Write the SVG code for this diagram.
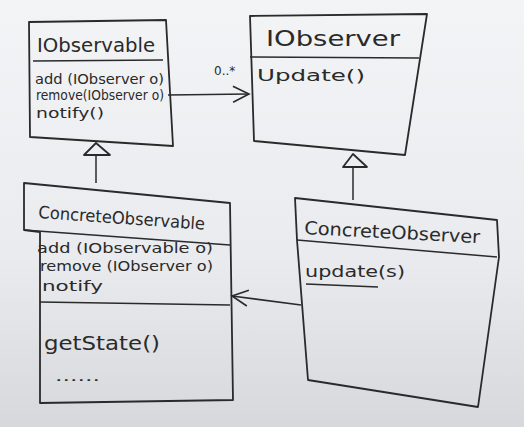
<svg xmlns="http://www.w3.org/2000/svg" width="524" height="427" viewBox="0 0 524 427">
<defs>
<linearGradient id="bg" x1="0" y1="0" x2="0" y2="1">
<stop offset="0" stop-color="#f3f4f6"/>
<stop offset="0.6" stop-color="#e9ebee"/>
<stop offset="1" stop-color="#d6d8dc"/>
</linearGradient>
<marker id="open" viewBox="0 0 20 20" refX="18" refY="10" markerWidth="20" markerHeight="20" markerUnits="userSpaceOnUse" orient="auto">
<path d="M2,2 L18,10 L2,18" fill="none" stroke="#2a2a2a" stroke-width="1.6"/>
</marker>
</defs>
<style>
.box{fill:none;stroke:#2a2a2a;stroke-width:1.8;stroke-linejoin:round}
.ln{fill:none;stroke:#2a2a2a;stroke-width:1.5}
.tri{fill:none;stroke:#2a2a2a;stroke-width:1.8;stroke-linejoin:round}
.t{font-family:"DejaVu Sans",sans-serif;fill:#2a2a2a}
.title{font-size:19px}
.m{font-size:14px}
</style>
<rect width="524" height="427" fill="url(#bg)"/>

<g id="IObservable">
<path class="box" d="M29,22 L166,20 L173,146 L30,137 Z"/>
<path class="ln" d="M33,61 L163,60"/>
<text class="t title" x="37" y="52" textLength="118" lengthAdjust="spacingAndGlyphs">IObservable</text>
<text class="t m" x="35" y="84" textLength="129" lengthAdjust="spacingAndGlyphs">add (IObserver o)</text>
<text class="t m" x="36" y="100" textLength="128" lengthAdjust="spacingAndGlyphs">remove(IObserver o)</text>
<text class="t m" x="36" y="118" textLength="68" lengthAdjust="spacingAndGlyphs">notify()</text>
</g>

<g id="IObserver">
<path class="box" d="M250,16 L427,14 L405,155 L254,141 Z"/>
<path class="ln" d="M250,57 L419,58"/>
<text class="t" x="266" y="46" font-size="21" textLength="134" lengthAdjust="spacingAndGlyphs">IObserver</text>
<text class="t" x="257" y="81" font-size="15" textLength="108" lengthAdjust="spacingAndGlyphs">Update()</text>
</g>

<g id="ConcreteObservable">
<path class="box" d="M24,183 L230,203 L233,400 L40,403 L40,232 L24,230 Z"/>
<path class="ln" d="M24,230 L230,245"/>
<path class="ln" d="M40,302 L230,305"/>
<text class="t" x="38" y="218" font-size="17" transform="rotate(4 38 218)" textLength="167" lengthAdjust="spacingAndGlyphs">ConcreteObservable</text>
<text class="t m" x="37" y="253" font-size="15" textLength="176" lengthAdjust="spacingAndGlyphs">add  (IObservable o)</text>
<text class="t m" x="40" y="271" font-size="15" textLength="173" lengthAdjust="spacingAndGlyphs">remove (IObserver o)</text>
<text class="t m" x="42" y="291" font-size="15" textLength="61" lengthAdjust="spacingAndGlyphs">notify</text>
<text class="t" x="44" y="350" font-size="20" textLength="116" lengthAdjust="spacingAndGlyphs">getState()</text>
<text class="t m" x="55" y="381" textLength="45" lengthAdjust="spacingAndGlyphs">......</text>
</g>

<g id="ConcreteObserver">
<path class="box" d="M295,198 L497,220 L499,257 L478,407 L308,380 L297,240 Z"/>
<path class="ln" d="M297,240 L497,257"/>
<text class="t" x="304" y="234" font-size="18" transform="rotate(3 304 234)" textLength="176" lengthAdjust="spacingAndGlyphs">ConcreteObserver</text>
<text class="t" x="305" y="277" font-size="16" textLength="100" lengthAdjust="spacingAndGlyphs">update(s)</text>
<path class="ln" d="M306,284 L378,287"/>
</g>

<g id="connectors">
<path class="ln" d="M168,95 L249,94" marker-end="url(#open)"/>
<text class="t" x="214" y="75" font-size="12">0..*</text>
<path class="ln" d="M96,183 L96,155"/>
<path class="tri" d="M96,143 L110,155 L84,155 Z"/>
<path class="ln" d="M353,200 L353,168"/>
<path class="tri" d="M353,154 L367,167 L343,167 Z"/>
<path class="ln" d="M301,305 L232,296" marker-end="url(#open)"/>
</g>
</svg>
